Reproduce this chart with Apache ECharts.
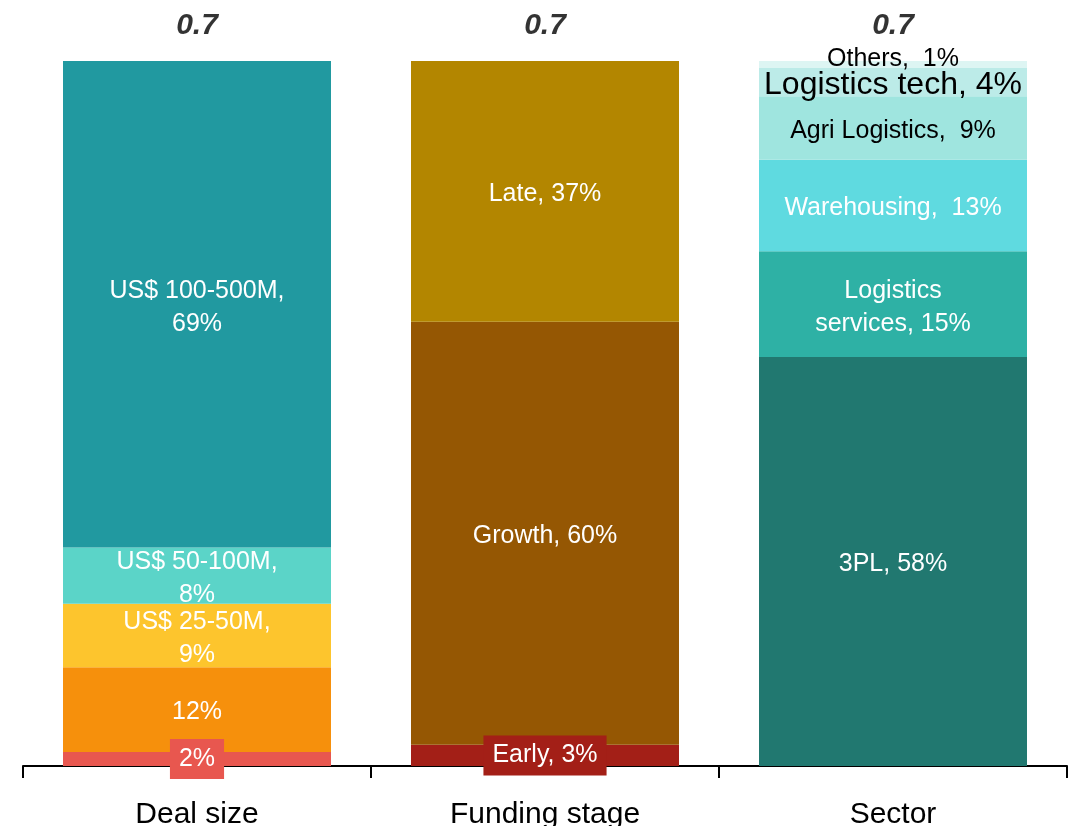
<!DOCTYPE html>
<html>
<head>
<meta charset="utf-8">
<script src="https://cdn.jsdelivr.net/npm/echarts@6/dist/echarts.min.js"></script>
<style>
  html, body { margin: 0; padding: 0; background: #fff; }
  #chart { width: 1081px; height: 826px; }
</style>
</head>
<body>
<div id="chart"></div>
<script>
// Share of deal value by breakdown (each bar sums to 100%)
const categories = ['Deal size', 'Funding stage', 'Sector'];
const totals = ['0.7', '0.7', '0.7'];

// Segments listed bottom-to-top
const dealSizePrefixes = ['', '', 'US$ 25-50M,\n', 'US$ 50-100M,\n', 'US$ 100-500M,\n'];
const dealSizeValues = [2, 12, 9, 8, 69];
const dealSizeColors = ['#E8574F', '#F6900C', '#FDC52D', '#5BD4C8', '#2199A0'];

const fundingPrefixes = ['Early, ', 'Growth, ', 'Late, '];
const fundingValues = [3, 60, 37];
const fundingColors = ['#A31F17', '#955703', '#B38600'];

const sectorPrefixes = ['3PL, ', 'Logistics\nservices, ', 'Warehousing,  ', 'Agri Logistics,  ', 'Logistics tech, ', 'Others,  '];
const sectorValues = [58, 15, 13, 9, 4, 1];
const sectorColors = ['#217870', '#2EB1A5', '#5FDAE0', '#9FE5DF', '#BCEBE8', '#DDF5F3'];

const FONT = '"Liberation Sans", Arial, Helvetica, sans-serif';

const groups = [
  { prefixes: dealSizePrefixes, values: dealSizeValues, colors: dealSizeColors },
  { prefixes: fundingPrefixes, values: fundingValues, colors: fundingColors },
  { prefixes: sectorPrefixes, values: sectorValues, colors: sectorColors }
];

// Per-segment label tweaks (boxed labels sit on the axis line, dark text on pale fills)
function labelStyle(groupIdx, segIdx, color) {
  const base = {
    show: true,
    position: 'inside',
    color: '#ffffff',
    fontFamily: FONT,
    fontSize: 25,
    lineHeight: 33,
    offset: [0, 3],
    textBorderWidth: 0,
    overflow: 'none'
  };
  if ((groupIdx === 0 && segIdx === 0) || (groupIdx === 1 && segIdx === 0)) {
    Object.assign(base, { backgroundColor: color, padding: [8, 9, 8, 9], lineHeight: 24, offset: [0, 0] });
  }
  if (groupIdx === 2 && segIdx >= 3) {
    base.color = '#000000';
  }
  if (groupIdx === 2 && segIdx === 4) {
    Object.assign(base, { fontSize: 32, lineHeight: 32 });
  }
  if (groupIdx === 2 && segIdx === 5) {
    Object.assign(base, { offset: [0, -5] });
  }
  return base;
}

const series = [];
groups.forEach((g, gi) => {
  g.values.forEach((v, si) => {
    series.push({
      type: 'bar',
      stack: 'share',
      barWidth: 268,
      itemStyle: { color: g.colors[si] },
      label: { show: false },
      emphasis: { disabled: true },
      data: categories.map((_, ci) => ci === gi ? {
        value: v,
        label: Object.assign(labelStyle(gi, si, g.colors[si]), {
          formatter: () => g.prefixes[si] + v + '%'
        })
      } : { value: 0, label: { show: false } })
    });
  });
});

// Totals printed above each stack
const stackTops = groups.map(g => g.values.reduce((a, b) => a + b, 0));
series.push({
  type: 'scatter',
  symbolSize: 0,
  silent: true,
  data: stackTops,
  label: {
    show: true,
    position: 'top',
    distance: 20,
    formatter: p => totals[p.dataIndex],
    color: '#000000',
    fontFamily: FONT,
    fontSize: 30,
    fontWeight: 'bold',
    fontStyle: 'italic'
  },
  z: 10
});

const chart = echarts.init(document.getElementById('chart'), null, { renderer: 'canvas' });
chart.setOption({
  animation: false,
  backgroundColor: '#ffffff',
  grid: { left: 23, right: 14, top: 61, bottom: 60, containLabel: false, outerBoundsMode: 'none' },
  xAxis: {
    type: 'category',
    data: categories,
    boundaryGap: true,
    axisLine: { lineStyle: { color: '#000', width: 2 } },
    axisTick: { show: true, length: 12, lineStyle: { color: '#000', width: 2 } },
    axisLabel: { color: '#000', fontFamily: FONT, fontSize: 30, margin: 34 }
  },
  yAxis: {
    type: 'value',
    min: 0,
    max: 100,
    show: false,
    splitLine: { show: false }
  },
  series: series
});
</script>
</body>
</html>
